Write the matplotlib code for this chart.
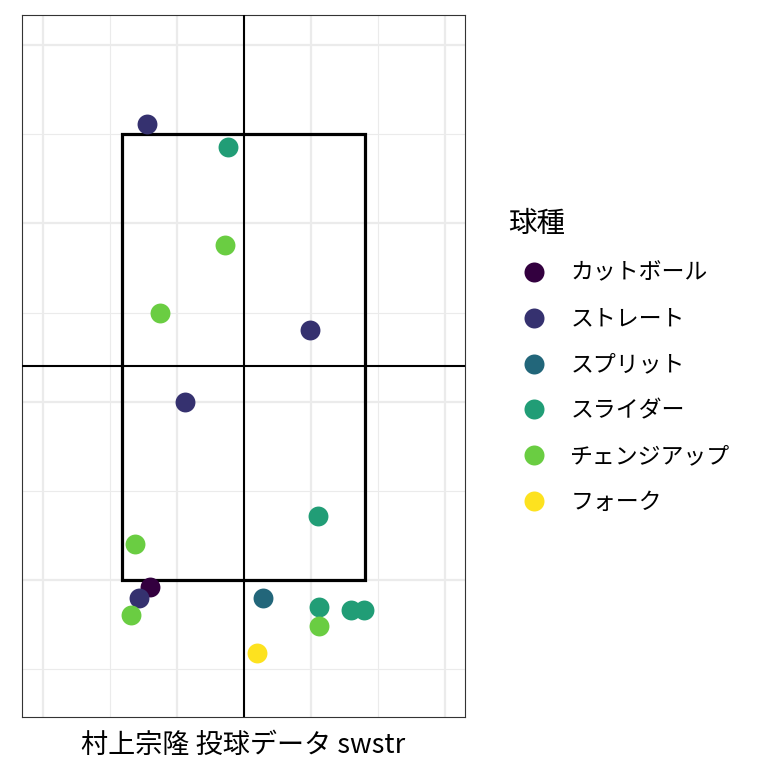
import numpy as np
import matplotlib.pyplot as plt
from matplotlib.lines import Line2D
from matplotlib.patches import Rectangle

plt.rcParams['font.family'] = ['Noto Sans CJK JP', 'DejaVu Sans']

# 球種とカラー
pitch_types = ["カットボール", "ストレート", "スプリット", "スライダー", "チェンジアップ", "フォーク"]
pitch_colors = ["#33003f", "#35316f", "#22667a", "#219d76", "#6acd42", "#fde21f"]

# 投球位置 (plate_x, plate_z)
pitch_kind = ["ストレート", "スライダー", "チェンジアップ", "チェンジアップ", "ストレート",
              "ストレート", "スライダー", "チェンジアップ", "ストレート", "カットボール",
              "チェンジアップ", "スプリット", "スライダー", "チェンジアップ", "スライダー",
              "スライダー", "フォーク"]
plate_x = [-0.72, -0.12, -0.14, -0.63, 0.49, -0.44, 0.55, -0.81, -0.78, -0.70,
           -0.84, 0.14, 0.56, 0.56, 0.80, 0.90, 0.10]
plate_z = [3.56, 3.43, 2.88, 2.50, 2.40, 2.00, 1.36, 1.20, 0.90, 0.96,
           0.80, 0.90, 0.85, 0.74, 0.83, 0.83, 0.59]

# ストライクゾーン
zone_left, zone_right = -0.91, 0.905
zone_bottom, zone_top = 1.0, 3.5
center_x, center_z = 0.0, 2.2

fig = plt.figure(figsize=(7.68, 7.68), dpi=100)
ax = fig.add_axes([0.0286, 0.0664, 0.5768, 0.9141])

for t, c in zip(pitch_types, pitch_colors):
    xs = [x for x, k in zip(plate_x, pitch_kind) if k == t]
    zs = [z for z, k in zip(plate_z, pitch_kind) if k == t]
    ax.scatter(xs, zs, s=205, color=c, linewidths=0, zorder=4)

ax.add_patch(Rectangle((zone_left, zone_bottom), zone_right - zone_left, zone_top - zone_bottom,
                       fill=False, edgecolor='black', lw=2.3, zorder=3))
ax.axvline(center_x, color='black', lw=1.5, zorder=3)
ax.axhline(center_z, color='black', lw=1.5, zorder=3)

ax.set_xlim(-1.657, 1.65)
ax.set_ylim(0.23, 4.17)
ax.set_xticks([-1.5, -0.5, 0.5, 1.5])
ax.set_xticks([-1.0, 0.0, 1.0], minor=True)
ax.set_yticks([1, 2, 3, 4])
ax.set_yticks([0.5, 1.5, 2.5, 3.5], minor=True)
ax.grid(which='major', color='#ebebeb', lw=1.6, zorder=0)
ax.grid(which='minor', color='#ebebeb', lw=0.8, zorder=0)
ax.tick_params(which='both', length=0, labelbottom=False, labelleft=False)
for s in ax.spines.values():
    s.set_color('#333333')
    s.set_linewidth(0.8)

ax.set_xlabel("村上宗隆 投球データ swstr", fontsize=19.5, labelpad=11)

handles = [Line2D([0], [0], marker='o', linestyle='', markersize=14.4,
                  markerfacecolor=c, markeredgewidth=0) for c in pitch_colors]
leg = ax.legend(handles, pitch_types, title="球種", loc='upper left',
                bbox_to_anchor=(0.650, 0.74), bbox_transform=fig.transFigure,
                frameon=False, fontsize=16.5, title_fontsize=20.5,
                handlelength=2.26, handletextpad=0.44, labelspacing=1.0, borderaxespad=0)
leg._legend_box.align = "left"

plt.savefig("out.png", dpi=100)
